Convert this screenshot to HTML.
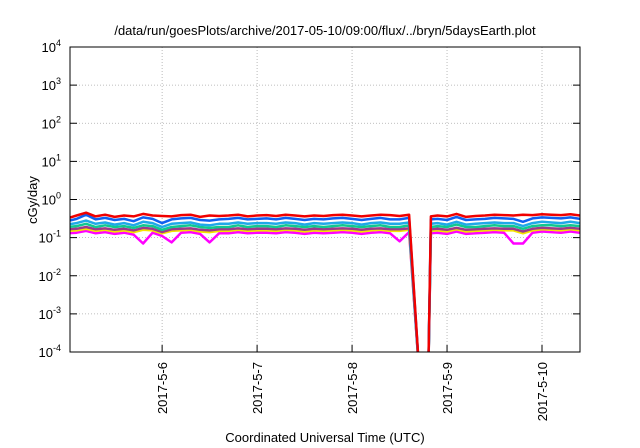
<!DOCTYPE html>
<html><head><meta charset="utf-8">
<style>
html,body{margin:0;padding:0;background:#fff;}
svg{display:block;font-family:"Liberation Sans",sans-serif;}
</style></head>
<body>
<svg id="chart" width="640" height="448" viewBox="0 0 640 448" xmlns="http://www.w3.org/2000/svg">
<rect x="0" y="0" width="640" height="448" fill="#fff"/>
<text x="325" y="35" font-size="13" text-anchor="middle" fill="#000">/data/run/goesPlots/archive/2017-05-10/09:00/flux/../bryn/5daysEarth.plot</text>
<text transform="translate(37,200) rotate(-90)" font-size="13" text-anchor="middle" fill="#000">cGy/day</text>
<text x="325" y="442" font-size="13" text-anchor="middle" fill="#000">Coordinated Universal Time (UTC)</text>
<g id="grid"></g>
<g id="series" clip-path="url(#clip)"></g>
<defs><clipPath id="clip"><rect x="70" y="47" width="510" height="305"/></clipPath></defs>
<rect x="70" y="47" width="510" height="305" fill="none" stroke="#000" stroke-width="1"/>
<g id="axes"></g>
</svg>
<script>
const xTickDays = [6,7,8,9,10];
const xTickLabels = ["2017-5-6","2017-5-7","2017-5-8","2017-5-9","2017-5-10"];
const yTickExps = [4,3,2,1,0,-1,-2,-3,-4];
const times = [5.0,5.1,5.2,5.3,5.4,5.5,5.6,5.7,5.8,5.9,6.0,6.1,6.2,6.3,6.4,6.5,6.6,6.7,6.8,6.9,7.0,7.1,7.2,7.3,7.4,7.5,7.6,7.7,7.8,7.9,8.0,8.1,8.2,8.3,8.4,8.5,8.6,8.72,8.8,8.83,8.9,9.0,9.1,9.2,9.3,9.4,9.5,9.6,9.7,9.8,9.9,10.0,10.1,10.2,10.3,10.4];
const seriesRed = [0.32,0.38,0.45,0.36,0.40,0.35,0.38,0.36,0.42,0.38,0.37,0.36,0.39,0.40,0.35,0.38,0.37,0.38,0.40,0.36,0.38,0.39,0.37,0.40,0.38,0.36,0.38,0.37,0.39,0.40,0.38,0.36,0.38,0.40,0.39,0.37,0.40,0.00001,0.00001,0.36,0.38,0.36,0.42,0.35,0.37,0.38,0.40,0.39,0.38,0.40,0.39,0.41,0.40,0.39,0.41,0.38];
const seriesBlue = [0.27,0.31,0.40,0.30,0.33,0.29,0.31,0.27,0.34,0.31,0.24,0.30,0.32,0.33,0.29,0.28,0.30,0.31,0.33,0.30,0.31,0.32,0.30,0.33,0.31,0.29,0.31,0.30,0.32,0.33,0.31,0.29,0.31,0.33,0.30,0.30,0.33,0.00001,0.00001,0.30,0.31,0.29,0.35,0.29,0.30,0.31,0.33,0.32,0.31,0.26,0.32,0.34,0.33,0.32,0.34,0.31];
const seriesCyan = [0.22,0.24,0.28,0.23,0.25,0.22,0.24,0.21,0.26,0.24,0.19,0.23,0.24,0.25,0.22,0.21,0.23,0.23,0.25,0.23,0.24,0.24,0.23,0.25,0.24,0.22,0.24,0.23,0.24,0.25,0.24,0.22,0.24,0.25,0.23,0.23,0.25,0.00001,0.00001,0.23,0.24,0.22,0.26,0.22,0.23,0.24,0.25,0.24,0.24,0.20,0.24,0.26,0.25,0.24,0.26,0.24];
const seriesTeal = [0.19,0.20,0.23,0.19,0.21,0.19,0.20,0.18,0.21,0.20,0.16,0.19,0.20,0.21,0.19,0.18,0.19,0.19,0.21,0.19,0.20,0.20,0.19,0.21,0.20,0.19,0.20,0.19,0.20,0.21,0.20,0.19,0.20,0.21,0.19,0.19,0.21,0.00001,0.00001,0.19,0.20,0.19,0.22,0.19,0.19,0.20,0.21,0.20,0.20,0.17,0.20,0.21,0.21,0.20,0.21,0.20];
const seriesPurple = [0.165,0.17,0.19,0.165,0.175,0.16,0.17,0.155,0.18,0.17,0.14,0.165,0.17,0.175,0.16,0.155,0.165,0.165,0.175,0.165,0.17,0.17,0.165,0.175,0.17,0.16,0.17,0.165,0.17,0.175,0.17,0.16,0.17,0.175,0.165,0.165,0.175,0.00001,0.00001,0.165,0.17,0.16,0.18,0.16,0.165,0.17,0.175,0.17,0.17,0.145,0.17,0.18,0.175,0.17,0.18,0.17];
const seriesYellow = [0.15,0.155,0.17,0.15,0.16,0.145,0.155,0.14,0.16,0.155,0.13,0.15,0.155,0.16,0.145,0.14,0.15,0.15,0.16,0.15,0.155,0.155,0.15,0.16,0.155,0.145,0.155,0.15,0.155,0.16,0.155,0.145,0.155,0.16,0.15,0.15,0.16,0.00001,0.00001,0.15,0.155,0.145,0.165,0.145,0.15,0.155,0.16,0.155,0.155,0.13,0.155,0.165,0.16,0.155,0.165,0.155];
const seriesMagenta = [0.13,0.135,0.15,0.13,0.14,0.125,0.135,0.12,0.07,0.135,0.11,0.075,0.135,0.14,0.125,0.075,0.13,0.13,0.14,0.13,0.135,0.135,0.13,0.14,0.135,0.125,0.135,0.13,0.135,0.14,0.135,0.125,0.135,0.14,0.13,0.08,0.14,0.00001,0.00001,0.13,0.135,0.125,0.145,0.125,0.13,0.135,0.14,0.135,0.07,0.07,0.135,0.145,0.14,0.135,0.145,0.135];
const seriesList = [
 {name:"magenta",vals:seriesMagenta,color:"#ff00ff"},
 {name:"yellow",vals:seriesYellow,color:"#f5e400"},
 {name:"purple",vals:seriesPurple,color:"#9b3a8a"},
 {name:"teal",vals:seriesTeal,color:"#10c890"},
 {name:"cyan",vals:seriesCyan,color:"#20a8e8"},
 {name:"blue",vals:seriesBlue,color:"#1060f0"},
 {name:"red",vals:seriesRed,color:"#f00000"}
];
const X0=70,X1=580,Y0=47,Y1=352,D0=5.03,D1=10.4,E0=4,E1=-4;
function xs(d){return X0+(d-D0)/(D1-D0)*(X1-X0);}
function ys(v){const e=Math.log10(Math.max(v,1e-8));return Y0+(E0-e)/(E0-E1)*(Y1-Y0);}
const NS="http://www.w3.org/2000/svg";
const grid=document.getElementById('grid'),axes=document.getElementById('axes'),ser=document.getElementById('series');
yTickExps.forEach(e=>{
 const y=ys(Math.pow(10,e));
 if(e<4&&e>-4){
  const g=document.createElementNS(NS,'line');
  
  
  g.setAttribute('x1',X0);g.setAttribute('x2',X1);g.setAttribute('y1',y);g.setAttribute('y2',y);
  g.setAttribute('stroke','#aaa');g.setAttribute('stroke-width','0.8');g.setAttribute('stroke-dasharray','1,2');
  grid.appendChild(g);
 }
 const t=document.createElementNS(NS,'line');
 
 
 t.setAttribute('x1',X0);t.setAttribute('x2',X0+7);t.setAttribute('y1',y);t.setAttribute('y2',y);t.setAttribute('stroke','#000');
 axes.appendChild(t);
 const t2=document.createElementNS(NS,'line');
 
 
 t2.setAttribute('x1',X1-7);t2.setAttribute('x2',X1);t2.setAttribute('y1',y);t2.setAttribute('y2',y);t2.setAttribute('stroke','#000');
 axes.appendChild(t2);
 const lb=document.createElementNS(NS,'text');
 
 
 lb.setAttribute('x',X0-9);lb.setAttribute('y',y+5);lb.setAttribute('text-anchor','end');lb.setAttribute('font-size','13');
 lb.innerHTML='10<tspan dy="-6" font-size="9">'+e+'</tspan>';
 axes.appendChild(lb);
});
xTickDays.forEach((d,i)=>{
 const x=xs(d);
 const g=document.createElementNS(NS,'line');
 
 
 g.setAttribute('x1',x);g.setAttribute('x2',x);g.setAttribute('y1',Y0);g.setAttribute('y2',Y1);
 g.setAttribute('stroke','#aaa');g.setAttribute('stroke-width','0.8');g.setAttribute('stroke-dasharray','1,2');
 grid.appendChild(g);
 const t=document.createElementNS(NS,'line');
 
 
 t.setAttribute('x1',x);t.setAttribute('x2',x);t.setAttribute('y1',Y1-7);t.setAttribute('y2',Y1);t.setAttribute('stroke','#000');
 axes.appendChild(t);
 const lb=document.createElementNS(NS,'text');
 
 
 lb.setAttribute('transform','translate('+(x+5)+','+(Y1+10)+') rotate(-90)');
 lb.setAttribute('text-anchor','end');lb.setAttribute('font-size','13');
 lb.textContent=xTickLabels[i];
 axes.appendChild(lb);
});
seriesList.forEach(s=>{
 const p=document.createElementNS(NS,'polyline');
 
 
 p.setAttribute('points',times.map((t,i)=>xs(t).toFixed(1)+','+ys(s.vals[i]).toFixed(1)).join(' '));
 p.setAttribute('fill','none');p.setAttribute('stroke',s.color);p.setAttribute('stroke-width','2.5');p.setAttribute('stroke-linejoin','round');
 ser.appendChild(p);
});
</script>
</body></html>
